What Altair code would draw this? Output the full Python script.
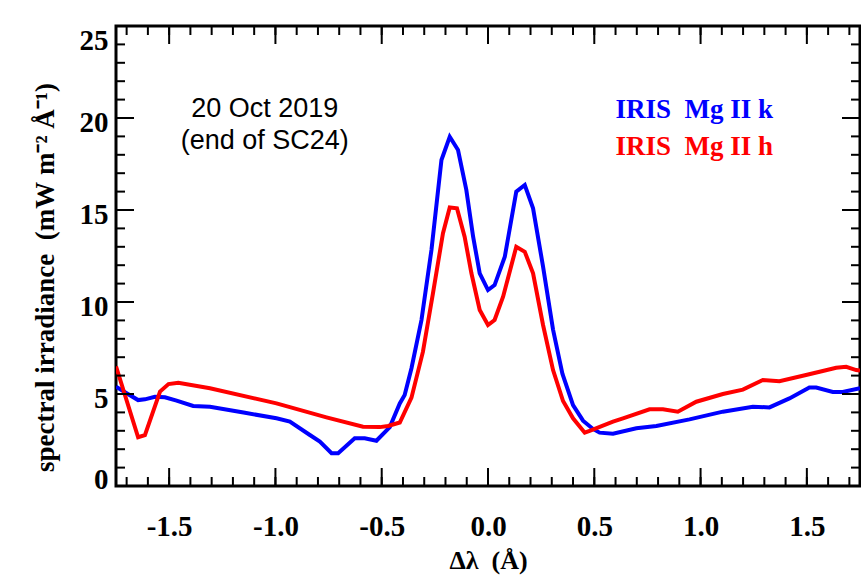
import altair as alt
import pandas as pd

# IRIS Mg II k line profile (wavelength offset in Angstrom, irradiance)
k_dl = [-1.75, -1.70, -1.646, -1.614, -1.567, -1.52, -1.465, -1.387, -1.308, -1.15,
        -0.995, -0.932, -0.838, -0.791, -0.736, -0.705, -0.627, -0.58, -0.525, -0.462,
        -0.415, -0.392, -0.36, -0.313, -0.266, -0.219, -0.18, -0.141, -0.102, -0.07,
        -0.039, 0.0, 0.031, 0.079, 0.133, 0.173, 0.212, 0.259, 0.306, 0.35,
        0.40, 0.447, 0.494, 0.525, 0.588, 0.698, 0.792, 0.948, 1.105, 1.246,
        1.324, 1.418, 1.512, 1.544, 1.622, 1.669, 1.75]
k_flux = [5.40, 5.04, 4.67, 4.71, 4.85, 4.82, 4.64, 4.35, 4.31, 3.99,
          3.68, 3.50, 2.77, 2.41, 1.78, 1.78, 2.59, 2.59, 2.46, 3.20,
          4.49, 4.95, 6.4, 9.02, 12.83, 17.72, 18.98, 18.26, 16.09, 13.55,
          11.56, 10.65, 10.92, 12.46, 16.0, 16.36, 15.09, 11.92, 8.5, 6.1,
          4.4, 3.55, 3.10, 2.90, 2.84, 3.14, 3.26, 3.62, 4.04, 4.31,
          4.27, 4.76, 5.35, 5.35, 5.11, 5.11, 5.31]

# IRIS Mg II h line profile
h_dl = [-1.75, -1.646, -1.614, -1.543, -1.503, -1.457, -1.308, -0.995, -0.76, -0.588,
        -0.509, -0.47, -0.415, -0.36, -0.306, -0.259, -0.212, -0.18, -0.146, -0.11,
        -0.078, -0.039, 0.0, 0.031, 0.071, 0.133, 0.173, 0.212, 0.259, 0.306,
        0.353, 0.40, 0.455, 0.478, 0.588, 0.635, 0.76, 0.823, 0.893, 0.98,
        1.105, 1.199, 1.293, 1.371, 1.496, 1.56, 1.638, 1.685, 1.732, 1.75]
h_flux = [6.50, 2.65, 2.77, 5.13, 5.54, 5.61, 5.31, 4.49, 3.73, 3.22,
          3.20, 3.26, 3.45, 4.8, 7.3, 10.47, 13.73, 15.14, 15.09, 13.55,
          11.56, 9.57, 8.75, 9.02, 10.29, 13.0, 12.73, 11.56, 8.75, 6.3,
          4.62, 3.68, 2.90, 3.0, 3.50, 3.68, 4.17, 4.17, 4.04, 4.58,
          5.0, 5.24, 5.76, 5.69, 6.03, 6.21, 6.43, 6.48, 6.30, 6.27]

# Tick positions
x_major = [-1.5, -1.0, -0.5, 0.0, 0.5, 1.0, 1.5]
x_minor = [round(-1.7 + 0.1 * i, 1) for i in range(35)]
y_major = [0, 5, 10, 15, 20, 25]
y_minor = list(range(0, 26))

# Annotation and legend text (non-breaking spaces keep the wide gaps)
NB = "\u00a0"
note_lines = ["20 Oct 2019", "(end of SC24)"]
note_x = [-1.05, -1.05]
note_y = [20.05, 18.3]
legend_labels = [f"IRIS{NB}{NB}Mg{NB}II{NB}k", f"IRIS{NB}{NB}Mg{NB}II{NB}h"]
legend_colors = ["#0000ff", "#ff0000"]
legend_x = [0.6, 0.6]
legend_y = [20.0, 18.0]

W, H = 744, 460
MAJ, MIN = 18, 9
SERIF = "Liberation Serif"

xs = alt.Scale(domain=[-1.75, 1.75], nice=False, zero=False)
ys = alt.Scale(domain=[0, 25], nice=False)

x_axis = alt.Axis(
    values=x_major, ticks=False, tickSize=0, domain=False, grid=False,
    labelExpr="(datum.value < 0 ? '-' : '') + format(abs(datum.value), '.1f')",
    labelFont=SERIF, labelFontWeight="bold", labelFontSize=29, labelColor="black",
    labelBaseline="alphabetic", labelPadding=49, labelFlush=False,
    title=f"Δλ{NB}{NB}(Å)", titleFont=SERIF, titleFontWeight="bold", titleFontSize=26,
    titleColor="black", titleBaseline="alphabetic", titleY=82, titleX=W / 2,
    titleAlign="center",
)
y_axis = alt.Axis(
    values=y_major, ticks=False, tickSize=0, domain=False, grid=False,
    labelFont=SERIF, labelFontWeight="bold", labelFontSize=29, labelColor="black",
    labelBaseline="alphabetic", labelPadding=8, labelFlush=False,
    labelOffset={"condition": [{"test": "datum.value == 25", "value": 23},
                               {"test": "datum.value == 0", "value": 2}],
                 "value": 13.5},
    title=f"spectral irradiance{NB}{NB}(mW{NB}m⁻²{NB}Å⁻¹)", titleFont=SERIF,
    titleFontWeight="bold", titleFontSize=27, titleColor="black",
    titleAngle=270, titleAlign="center", titleBaseline="middle",
    titleX=-71, titleY=251,
)


def X(field):
    return alt.X(field, scale=xs, axis=x_axis)


def Y(field):
    return alt.Y(field, scale=ys, axis=y_axis)


k_df = pd.DataFrame({"dl": k_dl, "flux": k_flux})
h_df = pd.DataFrame({"dl": h_dl, "flux": h_flux})

k_line = alt.Chart(k_df).mark_line(color="#0000ff", strokeWidth=4, clip=True).encode(
    x=X("dl:Q"), y=Y("flux:Q"), order="dl:Q",
)
h_line = alt.Chart(h_df).mark_line(color="#ff0000", strokeWidth=4, clip=True).encode(
    x=X("dl:Q"), y=Y("flux:Q"), order="dl:Q",
)


def xticks(values, length):
    src = pd.DataFrame({"v": values})
    base = alt.Chart(src).mark_rule(color="black", strokeWidth=2)
    bottom = base.encode(x=X("v:Q"), y=alt.value(H), y2=alt.value(H - length))
    top = base.encode(x=X("v:Q"), y=alt.value(0), y2=alt.value(length))
    return [bottom, top]


def yticks(values, length):
    src = pd.DataFrame({"v": values})
    base = alt.Chart(src).mark_rule(color="black", strokeWidth=2)
    left = base.encode(y=Y("v:Q"), x=alt.value(0), x2=alt.value(length))
    right = base.encode(y=Y("v:Q"), x=alt.value(W), x2=alt.value(W - length))
    return [left, right]


note_df = pd.DataFrame({"t": note_lines, "x": note_x, "y": note_y})
note = alt.Chart(note_df).mark_text(
    font="Liberation Sans", fontSize=27, color="black", align="center",
    baseline="alphabetic",
).encode(x=X("x:Q"), y=Y("y:Q"), text="t:N")

legend_df = pd.DataFrame({"t": legend_labels, "c": legend_colors,
                          "x": legend_x, "y": legend_y})
legend = alt.Chart(legend_df).mark_text(
    font=SERIF, fontWeight="bold", fontSize=27, align="left", baseline="alphabetic",
).encode(
    x=X("x:Q"), y=Y("y:Q"), text="t:N",
    color=alt.Color("c:N", scale=None, legend=None),
)

layers = [k_line, h_line]
layers += xticks(x_minor, MIN) + xticks(x_major, MAJ)
layers += yticks(y_minor, MIN) + yticks(y_major, MAJ)
layers += [note, legend]

chart = alt.layer(*layers).properties(
    width=W,
    height=H,
    autosize=alt.AutoSizeParams(type="none"),
    padding={"left": 116, "top": 26, "right": 1, "bottom": 93},
    background="white",
).configure_view(stroke="black", strokeWidth=3)

chart.save("out.html", embed_options={"renderer": "svg", "actions": False})
